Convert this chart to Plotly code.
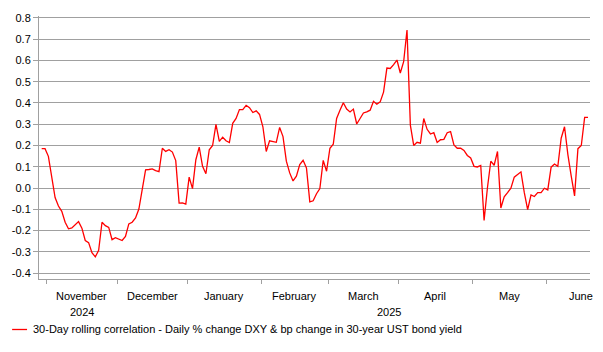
import plotly.graph_objects as go

# ---- data ----
corr_values = [
    # late Oct / November 2024
    0.185, 0.185, 0.149, 0.05, -0.045, -0.085, -0.11, -0.161, -0.192, -0.188,
    -0.172, -0.158, -0.189, -0.247, -0.257, -0.304, -0.324, -0.293, -0.161, -0.177,
    -0.185, -0.243, -0.234, -0.239, -0.247, -0.228, -0.169, -0.161, -0.141, -0.099,
    -0.014,
    # December / January
    0.085, 0.087, 0.09, 0.082, 0.077, 0.187, 0.172, 0.18, 0.169, 0.129,
    -0.071, -0.07, -0.076, 0.051, -0.003, 0.133, 0.192, 0.102, 0.067, 0.18,
    0.2, 0.299, 0.219, 0.239, 0.222, 0.214, 0.304, 0.327, 0.369, 0.369,
    0.389, 0.378, 0.355, 0.363, 0.346, 0.288, 0.172,
    # February / March
    0.222, 0.219, 0.215, 0.285, 0.242, 0.126, 0.071, 0.033, 0.056, 0.11,
    0.13, 0.094, -0.065, -0.06, -0.027, -0.003, 0.13, 0.079, 0.187, 0.206,
    0.327, 0.366, 0.401, 0.371, 0.358, 0.371, 0.301, 0.327, 0.353, 0.358,
    0.366, 0.408,
    # March / April
    0.394, 0.405, 0.451, 0.564, 0.562, 0.58, 0.602, 0.541, 0.594, 0.743,
    0.296, 0.2, 0.215, 0.211, 0.327, 0.276, 0.254, 0.26, 0.214, 0.227,
    0.229, 0.26, 0.265, 0.203, 0.187, 0.187, 0.177, 0.153, 0.141, 0.102,
    0.099,
    # May / June
    0.106, -0.153, 0.001, 0.126, 0.107, 0.172, -0.094, -0.042, -0.022, -0.001,
    0.051, 0.064, 0.076, -0.022, -0.102, -0.033, -0.04, -0.022, -0.022, -0.001,
    -0.009, 0.098, 0.113, 0.102, 0.234, 0.288, 0.157, 0.056, -0.037, 0.185,
    0.2, 0.332, 0.332,
]

months = ["November", "December", "January", "February", "March", "April", "May", "June"]
days_before_first_month = 2          # trading days of October shown
month_trading_days = [21, 21, 22, 20, 21, 22, 22, 21]
years = ["2024", "2025"]
y_tick_vals = [-0.4, -0.3, -0.2, -0.1, 0.0, 0.1, 0.2, 0.3, 0.4, 0.5, 0.6, 0.7, 0.8]
y_tick_text = ["-0.4", "-0.3", "-0.2", "-0.1", "0.0", "0.1", "0.2", "0.3", "0.4", "0.5", "0.6", "0.7", "0.8"]
series_name = "30-Day rolling correlation - Daily % change DXY & bp change in 30-year UST bond yield"

# ---- derived positions ----
n = len(corr_values)
x_idx = list(range(n))
boundaries = []
b = days_before_first_month - 0.5
for d in month_trading_days:
    boundaries.append(b)
    b += d
month_centers = [boundaries[i] + month_trading_days[i] / 2 for i in range(len(months))]
x_range = [-0.8, n - 1 + 0.6]

FONT = "Liberation Sans, Arial, sans-serif"
GRID = "#a0a0a0"

fig = go.Figure()
fig.add_trace(go.Scatter(
    x=x_idx, y=corr_values, mode="lines",
    line=dict(color="#ff0000", width=1.3),
    name=series_name, showlegend=False, hoverinfo="y",
))

annotations = []
for m, c in zip(months, month_centers):
    annotations.append(dict(x=c, y=-0.064, xref="x", yref="paper", text=m,
                            showarrow=False, xanchor="center", yanchor="middle",
                            font=dict(family=FONT, size=11, color="#000")))
# year labels
annotations.append(dict(x=month_centers[0], y=-0.124, xref="x", yref="paper", text=years[0],
                        showarrow=False, xanchor="center", yanchor="middle",
                        font=dict(family=FONT, size=11, color="#000")))
annotations.append(dict(x=(boundaries[2] + x_range[1]) / 2, y=-0.124, xref="x", yref="paper",
                        text=years[1], showarrow=False, xanchor="center", yanchor="middle",
                        font=dict(family=FONT, size=11, color="#000")))
# legend text
annotations.append(dict(x=-0.0145, y=-0.192, xref="paper", yref="paper", text=series_name,
                        showarrow=False, xanchor="left", yanchor="middle",
                        font=dict(family=FONT, size=11, color="#000")))

fig.update_layout(
    width=603, height=352,
    margin=dict(l=37, r=13, t=13, b=73),
    paper_bgcolor="white", plot_bgcolor="white",
    font=dict(family=FONT, size=11, color="#000"),
    showlegend=False,
    annotations=annotations,
    shapes=[dict(type="line", xref="paper", yref="paper",
                 x0=-0.0488, x1=-0.0217, y0=-0.192, y1=-0.192,
                 line=dict(color="#ff0000", width=1.3))],
    xaxis=dict(range=x_range, tickvals=boundaries, ticktext=[""] * len(boundaries),
               ticks="outside", ticklen=4, tickcolor=GRID, showgrid=False,
               zeroline=False, showline=True, linecolor=GRID, linewidth=1),
    yaxis=dict(range=[-0.428, 0.809], tickvals=y_tick_vals, ticktext=y_tick_text,
               ticks="outside", ticklen=5, tickcolor=GRID, showgrid=True,
               gridcolor=GRID, gridwidth=1, zeroline=False, showline=True,
               linecolor=GRID, linewidth=1,
               tickfont=dict(family=FONT, size=11, color="#000")),
)

fig.write_html("out.html")
